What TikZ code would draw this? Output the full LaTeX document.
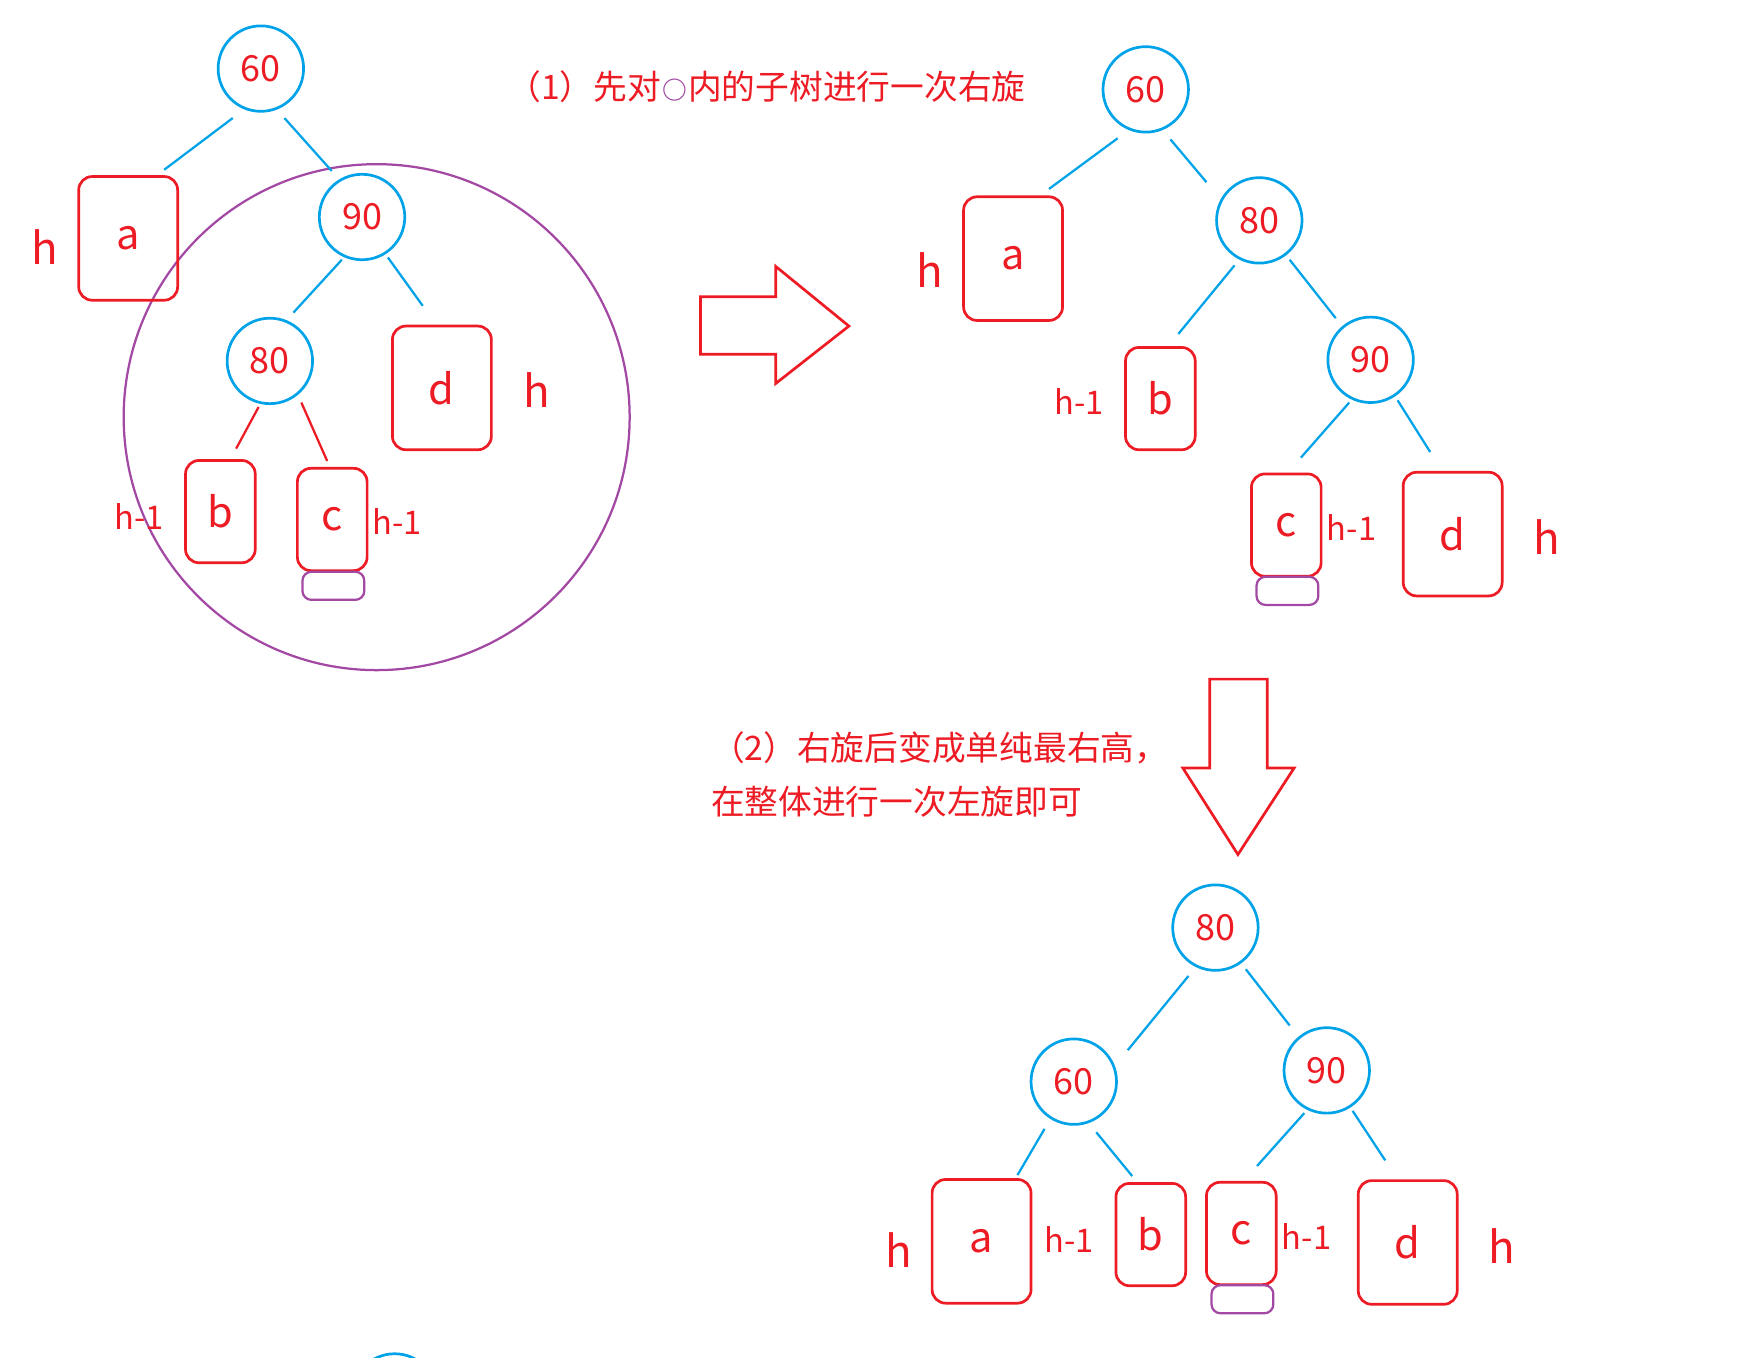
\documentclass[tikz,border=0pt]{standalone}
\usepackage{fontspec}
\setmainfont{Noto Sans CJK SC}
\usetikzlibrary{calc}
\definecolor{pred}{RGB}{237,28,36}
\definecolor{pblue}{RGB}{0,162,232}
\definecolor{ppurple}{RGB}{163,73,164}
\tikzset{
 num/.style={circle, draw=pblue, line width=1.2pt, minimum size=38pt, inner sep=0pt, text=pred, font=\fontsize{16pt}{19pt}\selectfont},
 leafbig/.style={rectangle, rounded corners=6pt, draw=pred, line width=1.2pt, minimum width=44pt, minimum height=55pt, inner sep=0pt, text=pred, font=\fontsize{18.5pt}{22pt}\selectfont},
 leafsmall/.style={leafbig, minimum width=31pt, minimum height=45.5pt},
 extra/.style={rectangle, rounded corners=4pt, draw=ppurple, line width=1pt, minimum width=27.5pt, minimum height=12.5pt, inner sep=0pt},
 hlab/.style={text=pred, inner sep=0pt, font=\fontsize{19.5pt}{22pt}\selectfont},
 hmlab/.style={text=pred, inner sep=0pt, font=\fontsize{14.5pt}{17pt}\selectfont},
 edge/.style={draw=pblue, line width=1pt},
 redge/.style={draw=pred, line width=1pt},
 note/.style={text=pred, inner sep=0pt, anchor=west, font=\fontsize{15pt}{18pt}\selectfont},
 block/.style={draw=pred, line width=1.2pt, line join=miter},
 selring/.style={circle, draw=ppurple, line width=1pt, minimum size=225pt, inner sep=0pt},
}
\begin{document}
\begin{tikzpicture}[x=0.5pt,y=-0.5pt]
\useasboundingbox (0,0) rectangle (1568,1207);

% ---------- Tree 1 ----------
\node[selring] (t1sel) at (335,371) {};
\node[num] (t1n60) at (232,61) {60};
\node[num] (t1n90) at (322,193) {90};
\node[num] (t1n80) at (240,321) {80};
\node[leafbig] (t1a) at (114,212) {a};
\node[leafbig] (t1d) at (393,345) {d};
\node[leafsmall] (t1b) at (196,455) {b};
\node[leafsmall] (t1c) at (295.5,462) {c};
\node[extra] (t1x) at (296.5,521) {};
\node[hlab] (t1ha) at (40,220) {h};
\node[hlab] (t1hd) at (477,347) {h};
\node[hmlab] (t1hb) at (124,459) {h-1};
\node[hmlab] (t1hc) at (353,464) {h-1};
\draw[edge] ($(t1n60)+(-25,44)$) -- ($(t1a)+(32,-61)$);
\draw[edge] ($(t1n60)+(21,44)$) -- ($(t1n90)+(-27,-41)$);
\draw[edge] ($(t1n90)+(-18,38)$) -- ($(t1n80)+(21,-43)$);
\draw[edge] ($(t1n90)+(23,36)$) -- ($(t1d)+(-17,-73)$);
\draw[redge] ($(t1n80)+(-10,41)$) -- ($(t1b)+(14,-56)$);
\draw[redge] ($(t1n80)+(28,37)$) -- ($(t1c)+(-4.5,-52)$);

% ---------- caption 1 ----------
\node[note] (cap1) at (451,77) {（1）先对\hspace{0.5pt}{\color{ppurple}\fontsize{11pt}{12pt}\selectfont\bfseries ○}\hspace{0.5pt}内的子树进行一次右旋};

% ---------- right block arrow ----------
\draw[block] (623,264) -- (690,264) -- (690,237) -- (755,290) -- (690,341) -- (690,315) -- (623,315) -- cycle;

% ---------- Tree 2 ----------
\node[num] (t2n60) at (1019,79.5) {60};
\node[num] (t2n80) at (1120,196) {80};
\node[num] (t2n90) at (1219,320) {90};
\node[leafbig] (t2a) at (901,230) {a};
\node[leafsmall] (t2b) at (1032,354.5) {b};
\node[leafsmall] (t2c) at (1144,467) {c};
\node[leafbig] (t2d) at (1292,475) {d};
\node[extra] (t2x) at (1145,525.5) {};
\node[hlab] (t2ha) at (827,240) {h};
\node[hmlab] (t2hb) at (960,357) {h-1};
\node[hmlab] (t2hc) at (1202,469) {h-1};
\node[hlab] (t2hd) at (1376,478) {h};
\draw[edge] ($(t2n60)+(-25,43.5)$) -- ($(t2a)+(32,-62)$);
\draw[edge] ($(t2n60)+(22,44.5)$) -- ($(t2n80)+(-47,-34)$);
\draw[edge] ($(t2n80)+(-22,40)$) -- ($(t2b)+(16,-57.5)$);
\draw[edge] ($(t2n80)+(27,35)$) -- ($(t2n90)+(-31,-37)$);
\draw[edge] ($(t2n90)+(-19,38)$) -- ($(t2c)+(13,-60)$);
\draw[edge] ($(t2n90)+(24,36)$) -- ($(t2d)+(-20,-73)$);

% ---------- caption 2 ----------
\node[note] (cap2a) at (632,665) {（2）右旋后变成单纯最右高，};
\node[note] (cap2b) at (632,713) {在整体进行一次左旋即可};

% ---------- down block arrow ----------
\draw[block] (1076,604) -- (1127,604) -- (1127,683) -- (1151,683) -- (1101,760) -- (1052,683) -- (1076,683) -- cycle;

% ---------- Tree 3 ----------
\node[num] (t3n80) at (1081,825) {80};
\node[num] (t3n60) at (955,962) {60};
\node[num] (t3n90) at (1180,952) {90};
\node[leafbig] (t3a) at (873,1104) {a};
\node[leafsmall] (t3b) at (1023.5,1098) {b};
\node[leafsmall] (t3c) at (1104,1097) {c};
\node[leafbig] (t3d) at (1252,1105) {d};
\node[extra] (t3x) at (1105,1155.5) {};
\node[hlab] (t3ha) at (799,1112) {h};
\node[hmlab] (t3hb) at (951,1102) {h-1};
\node[hmlab] (t3hc) at (1162,1100) {h-1};
\node[hlab] (t3hd) at (1336,1108) {h};
\draw[edge] ($(t3n80)+(-24,43)$) -- ($(t3n60)+(48,-28)$);
\draw[edge] ($(t3n80)+(27,37)$) -- ($(t3n90)+(-33,-40)$);
\draw[edge] ($(t3n60)+(-26,42)$) -- ($(t3a)+(32,-59)$);
\draw[edge] ($(t3n60)+(20,45)$) -- ($(t3b)+(-16.5,-52)$);
\draw[edge] ($(t3n90)+(-20,38)$) -- ($(t3c)+(14,-60)$);
\draw[edge] ($(t3n90)+(23,36)$) -- ($(t3d)+(-20,-73)$);

% ---------- stray node cut by the bottom edge ----------
\begin{scope}
\clip (0,0) rectangle (1568,1207);
\node[num] (stray) at (351,1242) {};
\end{scope}
\end{tikzpicture}
\end{document}
